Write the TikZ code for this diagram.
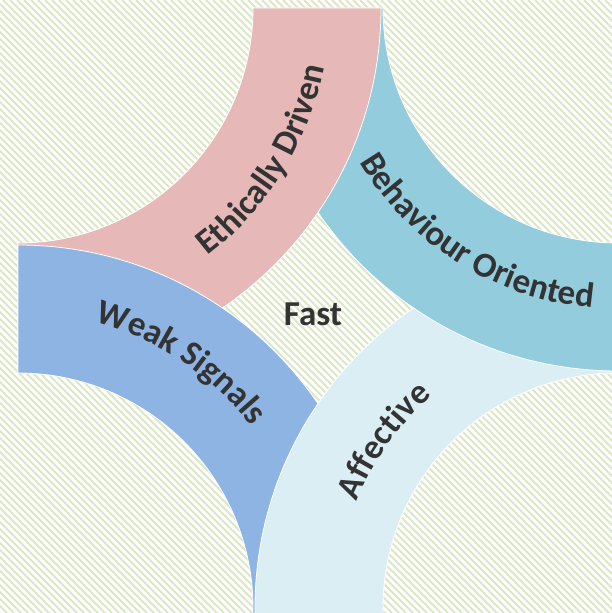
\documentclass[tikz,border=0pt]{standalone}
\usepackage{fontspec}
\setmainfont{Carlito}
\usetikzlibrary{decorations.text}

\definecolor{bandpink}{HTML}{E6B9B8}
\definecolor{bandteal}{HTML}{93CDDD}
\definecolor{bandblue}{HTML}{8EB4E3}
\definecolor{bandpale}{HTML}{DBEEF4}
\definecolor{labeltext}{HTML}{333333}
\definecolor{hatchgreen}{HTML}{DCE7C6}

\newcommand\labfont{\fontsize{35}{35}\selectfont\bfseries}

\tikzset{
  band/.style={draw=white, line width=0.8pt, line join=round},
  hatchline/.style={draw=hatchgreen, line width=1.8pt},
  arclabel/.style={decorate, decoration={text along path, text align=center, text color=labeltext}},
}

% the four quarter rings (inner radius 235, outer radius 363)
\newcommand\bluering{(18,240) arc[start angle=90, end angle=0, radius=235] -- (253,-5) -- (381,-5) -- (381,5) arc[start angle=0, end angle=90, radius=363] -- cycle}
\newcommand\palering{(255,-5) -- (255,5) arc[start angle=180, end angle=90, radius=363] -- (618,240) arc[start angle=90, end angle=180, radius=235] -- (383,-5) -- cycle}
\newcommand\tealring{(255,605) arc[start angle=180, end angle=270, radius=363] -- (618,370) arc[start angle=270, end angle=180, radius=235] -- cycle}
\newcommand\pinkring{(253,605) arc[start angle=0, end angle=-90, radius=235] -- (18,242) arc[start angle=-90, end angle=0, radius=363] -- cycle}

\begin{document}
\begin{tikzpicture}[x=1pt, y=1pt]
\useasboundingbox (0,0) rectangle (612,613);

% hatched background
\fill[white] (0,0) rectangle (612,613);
\begin{scope}
  \clip (0,0) rectangle (612,613);
  \foreach \c in {-620,-613,...,620}
    \draw[hatchline] (\c,613) -- ++(613,-613);
\end{scope}

% rings, each one lying over the next
\begin{scope}
  \clip (0,0) rectangle (612,613);
  \path[band, fill=bandblue] \bluering;
  \path[band, fill=bandpale] \palering;
  \path[band, fill=bandteal] \tealring;
  \path[band, fill=bandpink] \pinkring;
  % blue ring back over the pink one on the left
  \begin{scope}
    \clip (0,225) rectangle (245,385);
    \path[band, fill=bandblue] \bluering;
  \end{scope}
\end{scope}

% curved labels
\path[arclabel, decoration={text={|\labfont|Ethically Driven}}]
  ([shift={(-81.8:312)}]18,605) arc[start angle=-81.8, end angle=18.2, radius=312];
\path[arclabel, decoration={text={|\labfont|Behaviour Oriented}}]
  ([shift={(188:301)}]618,605) arc[start angle=188, end angle=288, radius=301];
\path[arclabel, decoration={text={|\labfont|Weak Signals}}]
  ([shift={(106.4:296)}]18,5) arc[start angle=106.4, end angle=6.4, radius=296];
\path[arclabel, decoration={text={|\labfont|Affective}}]
  ([shift={(194.5:282)}]618,5) arc[start angle=194.5, end angle=94.5, radius=282];

\node[font=\labfont, text=labeltext] (fast) at (313,299) {Fast};
\end{tikzpicture}
\end{document}
